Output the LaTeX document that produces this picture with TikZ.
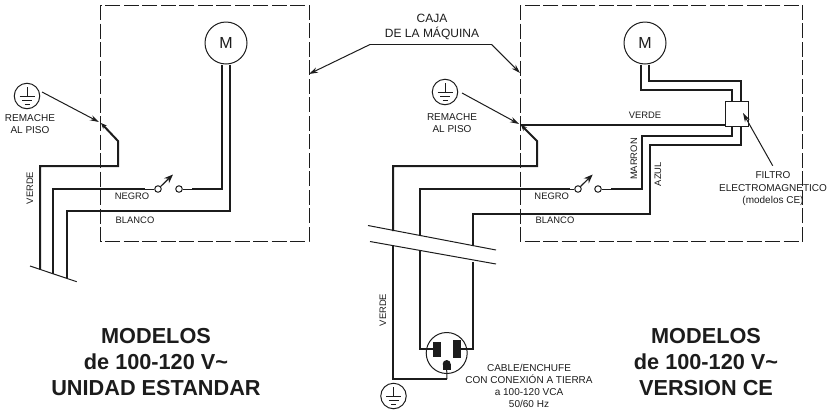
\documentclass[tikz,border=0pt]{standalone}
\usepackage{fontspec}
\setmainfont{Liberation Sans}
\usetikzlibrary{arrows.meta}
\definecolor{inkdark}{HTML}{1C1C1C}
\tikzset{
  wire/.style={line width=2pt,inkdark},
  lead/.style={line width=1pt,inkdark},
  pointer/.style={line width=1pt,inkdark,-{Stealth[length=9pt,width=5.5pt]}},
  rivet/.style={wire,{Stealth[length=6pt,width=5pt]}-},
  swingarm/.style={line width=1.2pt,inkdark,-{Stealth[length=9pt,width=7pt]}},
  casebox/.style={line width=1pt,inkdark,dash pattern=on 15pt off 3.5pt},
  cutline/.style={line width=1pt,inkdark},
  motor/.style={draw=inkdark,line width=1pt,circle,fill=white,minimum size=42pt,inner sep=0pt,font=\fontsize{16}{16}\selectfont,text=inkdark},
  contact/.style={draw=inkdark,line width=1pt,circle,fill=white,minimum size=6.5pt,inner sep=0pt},
  slot/.style={fill=inkdark,minimum width=8pt,inner sep=0pt},
  tag/.style={inner sep=0pt,text=inkdark,font=\fontsize{9.4}{9.4}\selectfont},
  note/.style={inner sep=0pt,text=inkdark,align=center,font=\fontsize{10}{11.8}\selectfont},
  title/.style={inner sep=0pt,text=inkdark,align=center,font=\fontsize{21.7}{26.2}\selectfont\bfseries},
  earth/.pic={
    \node[draw=inkdark,line width=1pt,circle,minimum size=25.5pt,inner sep=0pt] (-ring) at (0,0) {};
    \draw[lead] (0,-9) -- (0,0);
    \draw[lead] (-7.5,0) -- (7.5,0);
    \draw[lead] (-5,4) -- (5,4);
    \draw[lead] (-2.5,8) -- (2.5,8);
  }
}
\begin{document}
\begin{tikzpicture}[x=1pt,y=-1pt]
  \useasboundingbox (0,0) rectangle (834,413);
  % cases
  \draw[casebox] (100.5,5) rectangle (309,241);
  \draw[casebox] (520,5) rectangle (802.7,241);
  \path
    (309,74) coordinate (caseA)
    (370,44.5) coordinate (cajaA)
    (491.7,44.5) coordinate (cajaB)
    (520,73) coordinate (caseB);

  % left unit
  \path
    (101,123) coordinate (rivetA)
    (118,141) coordinate (rivetB)
    (118,166) coordinate (greenA)
    (40,166) coordinate (greenB)
    (40,269.5) coordinate (endA)
    (53,189) coordinate (blackA)
    (53,273.7) coordinate (endB)
    (145,189) coordinate (blackB)
    (192,189) coordinate (blackC)
    (222,189) coordinate (blackD)
    (67,211) coordinate (whiteA)
    (67,278) coordinate (endC)
    (230,211) coordinate (whiteB)
    (30,266) coordinate (cutA)
    (76.7,281.7) coordinate (cutB)
    (173,174.5) coordinate (armA)
    (99,122) coordinate (rivetP)
    (42,92) coordinate (earthA);
  \node[motor] (motorA) at (226,43) {M};
  \node[contact] (swA) at (158,189) {};
  \node[contact] (swB) at (179,189) {};
  \pic (gndA) at (27,96) {earth};
  \begin{scope}[wire]
    \draw[rivet] (rivetA) to (rivetB) to (greenA) to (greenB) to (endA);
    \draw (endB) to (blackA) to (blackB);
    \draw (blackC) to (blackD) to (blackD |- motorA.south);
    \draw (endC) to (whiteA) to (whiteB) to (whiteB |- motorA.south);
  \end{scope}
  \draw[lead] (blackB) to (swA);
  \draw[lead] (swB) to (blackC);
  \draw[swingarm] (swA) to (armA);
  \draw[cutline] (cutA) to (cutB);
  \draw[pointer] (earthA) to (rivetP);

  % right unit
  \node[motor] (motorB) at (645,43) {M};
  \node[contact] (swC) at (578,189) {};
  \node[contact] (swD) at (598,189) {};
  \node[draw=inkdark,line width=1pt,fill=white,minimum width=22.5pt,minimum height=25pt,inner sep=0pt] (filter) at (737,113.5) {};
  \pic (gndB) at (445,92) {earth};
  \pic (gndC) at (393.5,396) {earth};
  \path
    (521,125) coordinate (rivetC)
    (537,141) coordinate (rivetD)
    (537,166) coordinate (greenC)
    (393,166) coordinate (greenD)
    (393,231) coordinate (greenE)
    (393,246) coordinate (greenF)
    (393,379) coordinate (greenG)
    (447,379) coordinate (greenH)
    (420,189) coordinate (blackE)
    (420,236) coordinate (blackF)
    (420,251) coordinate (blackG)
    (420,349) coordinate (blackH)
    (570,189) coordinate (blackI)
    (611,189) coordinate (brownA)
    (642,189) coordinate (brownB)
    (642,136) coordinate (brownC)
    (732,136) coordinate (brownD)
    (641,90) coordinate (brownE)
    (732,90) coordinate (brownF)
    (473,214) coordinate (whiteC)
    (473,246) coordinate (whiteD)
    (473,262) coordinate (whiteE)
    (473,349) coordinate (whiteF)
    (650,214) coordinate (blueA)
    (650,145) coordinate (blueB)
    (741,145) coordinate (blueC)
    (649,81) coordinate (blueD)
    (741,81) coordinate (blueE)
    (368,225.5) coordinate (cutC)
    (496,250) coordinate (cutD)
    (370,241.5) coordinate (cutE)
    (496,264) coordinate (cutF)
    (592.7,174.5) coordinate (armB)
    (462,93) coordinate (earthB)
    (519,124) coordinate (rivetQ)
    (772.7,165.7) coordinate (filterA)
    (743,113) coordinate (filterB)
    (446.7,353) coordinate (plug);

  % receptacle
  \node[draw=inkdark,line width=1pt,circle,fill=white,minimum size=41pt,inner sep=0pt] (socket) at (plug) {};
  \node[slot,minimum height=15pt] (slotA) at (436.7,349.3) {};
  \node[slot,minimum height=18pt] (slotB) at (456.7,349) {};
  \node[slot,minimum height=6pt] (slotC) at (446.7,367) {};
  \node[slot,circle,minimum width=8pt] (slotD) at (446.7,364) {};

  \begin{scope}[wire]
    \draw (rivetC) to (filter.west |- rivetC);
    \draw[rivet] (rivetC) to (rivetD) to (greenC) to (greenD) to (greenE);
    \draw (greenF) to (greenG) to (greenH);
    \draw (blackF) to (blackE) to (blackI);
    \draw (blackG) to (blackH) to (slotA.west |- blackH);
    \draw (brownA) to (brownB) to (brownC) to (brownD) to (brownD |- filter.south);
    \draw (brownE |- motorB.south) to (brownE) to (brownF) to (brownF |- filter.north);
    \draw (whiteD) to (whiteC) to (blueA) to (blueB) to (blueC) to (blueC |- filter.south);
    \draw (blueD |- motorB.south) to (blueD) to (blueE) to (blueE |- filter.north);
    \draw (whiteE) to (whiteF) to (slotB.east |- whiteF);
  \end{scope}
  \draw[lead] (greenH) to (slotC.south);
  \draw[lead] (blackI) to (swC);
  \draw[lead] (swD) to (brownA);
  \draw[swingarm] (swC) to (armB);
  \draw[cutline] (cutC) to (cutD);
  \draw[cutline] (cutE) to (cutF);
  \draw[pointer] (earthB) to (rivetQ);
  \draw[pointer] (filterA) to (filterB);

  % pointer to both cases
  \draw[pointer] (cajaA) to (caseA);
  \draw[line width=1pt,inkdark] (cajaA) to (cajaB);
  \draw[pointer] (cajaB) to (caseB);

  % labels
  \node[inner sep=0pt,text=inkdark,align=center,font=\fontsize{12}{14.3}\selectfont] (caja) at (432,27) {CAJA\\DE LA MÁQUINA};
  \node[note] (remA) at (30,124) {REMACHE\\AL PISO};
  \node[note] (remB) at (452,123) {REMACHE\\AL PISO};
  \node[tag,rotate=90] (verdeA) at (30,188) {VERDE};
  \node[tag] (negroA) at (132,196) {NEGRO};
  \node[tag] (blancoA) at (135,220.5) {BLANCO};
  \node[tag] (verdeB) at (645,115.5) {VERDE};
  \node[tag,rotate=90] (marron) at (634,159) {MARRON};
  \node[tag,rotate=90] (azul) at (658,174) {AZUL};
  \node[tag] (negroB) at (551.7,196) {NEGRO};
  \node[tag] (blancoB) at (555,220.5) {BLANCO};
  \node[tag,rotate=90] (verdeC) at (383,310) {VERDE};
  \node[note,font=\fontsize{10}{12.5}\selectfont] (filtro) at (773,189) {FILTRO\\ELECTROMAGNETICO\\(modelos CE)};
  \node[note] (cable) at (529,386) {CABLE/ENCHUFE\\CON CONEXIÓN A TIERRA\\a 100-120 VCA\\50/60 Hz};
  \node[title] (titleA) at (156,362) {MODELOS\\de 100-120 V\textasciitilde\\UNIDAD ESTANDAR};
  \node[title] (titleB) at (706,362) {MODELOS\\de 100-120 V\textasciitilde\\VERSION CE};
\end{tikzpicture}
\end{document}
